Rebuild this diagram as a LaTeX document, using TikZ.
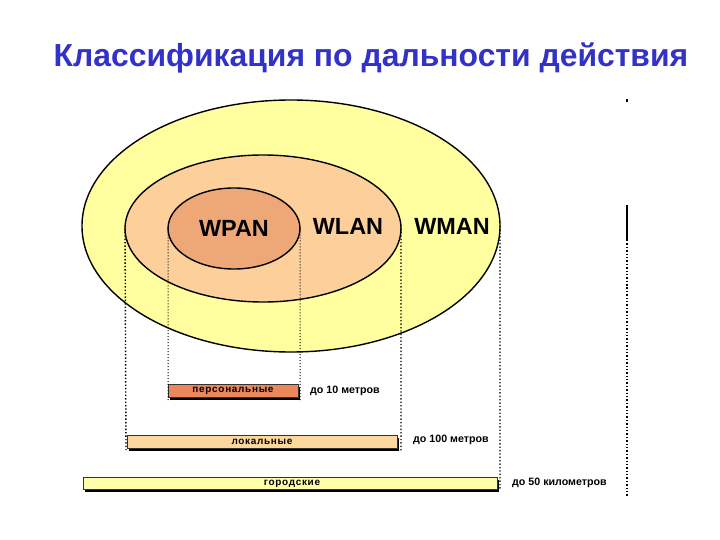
\documentclass[tikz,border=0pt]{standalone}
\usepackage{fontspec}
\setmainfont{Liberation Sans}
\newfontfamily\spacedfont[LetterSpace=7]{Liberation Sans}
\usetikzlibrary{shapes.geometric}
\definecolor{titleblue}{RGB}{50,50,200}
\definecolor{manfill}{RGB}{255,255,160}
\definecolor{lanfill}{RGB}{253,208,155}
\definecolor{panfill}{RGB}{238,168,120}
\definecolor{bar1}{RGB}{236,135,92}
\definecolor{bar2}{RGB}{253,216,158}
\definecolor{bar3}{RGB}{255,255,170}
\tikzset{
  zone/.style={ellipse, draw=black, line width=1.4bp, inner sep=0pt, outer sep=0pt},
  zonelabel/.style={font=\bfseries\fontsize{23.5}{26}\selectfont, inner sep=0pt, anchor=base},
  barlabel/.style={font=\spacedfont\bfseries\fontsize{10}{11}\selectfont, inner sep=0pt},
  rangelabel/.style={font=\bfseries\fontsize{10.7}{12}\selectfont, inner sep=0pt, anchor=west},
  guide/.style={dotted, line width=1.4bp},
  thinguide/.style={dotted, line width=1bp},
  barbox/.style={draw=black!80, line width=0.7bp, inner sep=0pt, outer sep=0pt}
}
\begin{document}
\begin{tikzpicture}[x=1bp,y=-1bp]
\useasboundingbox (0,0) rectangle (720,540);
\fill[white] (0,0) rectangle (720,540);
% title
\node[font=\bfseries\fontsize{32}{36}\selectfont, text=titleblue, anchor=base, inner sep=0pt] (title) at (371,67) {Классификация по дальности действия};
% ellipses
\node[zone, fill=manfill, minimum width=418bp, minimum height=252bp] (man) at (291,226) {};
\node[zone, fill=lanfill, minimum width=276bp, minimum height=147bp] (lan) at (263,228.5) {};
\node[zone, fill=panfill, minimum width=132bp, minimum height=81bp] (pan) at (234,228.5) {};
\node[zonelabel] (tpan) at (234,237) {WPAN};
\node[zonelabel] (tlan) at (348,235) {WLAN};
\node[zonelabel] (tman) at (452,235) {WMAN};
% bars with shadows
\fill[black] (170,387) rectangle (300,400);
\node[barbox, fill=bar1, minimum width=130bp, minimum height=13bp] (b1) at (233,390.5) {};
\fill[black] (129,438) rectangle (399,451);
\node[barbox, fill=bar2, minimum width=270bp, minimum height=13bp] (b2) at (262,441.5) {};
\fill[black] (85,480) rectangle (499,492);
\node[barbox, fill=bar3, minimum width=414bp, minimum height=12bp] (b3) at (290,483) {};
\node[barlabel] (l1) at (233,391) {персональные};
\node[barlabel] (l2) at (262,441.5) {локальные};
\node[barlabel] (l3) at (292,484) {городские};
\node[rangelabel] (r1) at (310,391) {до 10 метров};
\node[rangelabel] (r2) at (413,440) {до 100 метров};
\node[rangelabel] (r3) at (512,483) {до 50 километров};
% guide lines
\coordinate (g1) at (168,400);
\coordinate (g2) at (300,400);
\coordinate (g3) at (126,450);
\coordinate (g4) at (401,451);
\coordinate (g5) at (500,490);
\draw[thinguide] (pan.west) -- (g1);
\draw[thinguide] (pan.east) -- (g2);
\draw[guide] (lan.west) -- (g3);
\draw[guide] (lan.east) -- (g4);
\draw[guide] (man.east) -- (g5);
% right edge marks
\coordinate (e0) at (627,205);
\coordinate (e1) at (627,240);
\coordinate (e2) at (627,496);
\coordinate (d0) at (627,99);
\coordinate (d1) at (627,102);
\draw[line width=1.6bp] (e0) -- (e1);
\draw[guide] (e1) -- (e2);
\draw[line width=1.2bp] (d0) -- (d1);
\end{tikzpicture}
\end{document}
